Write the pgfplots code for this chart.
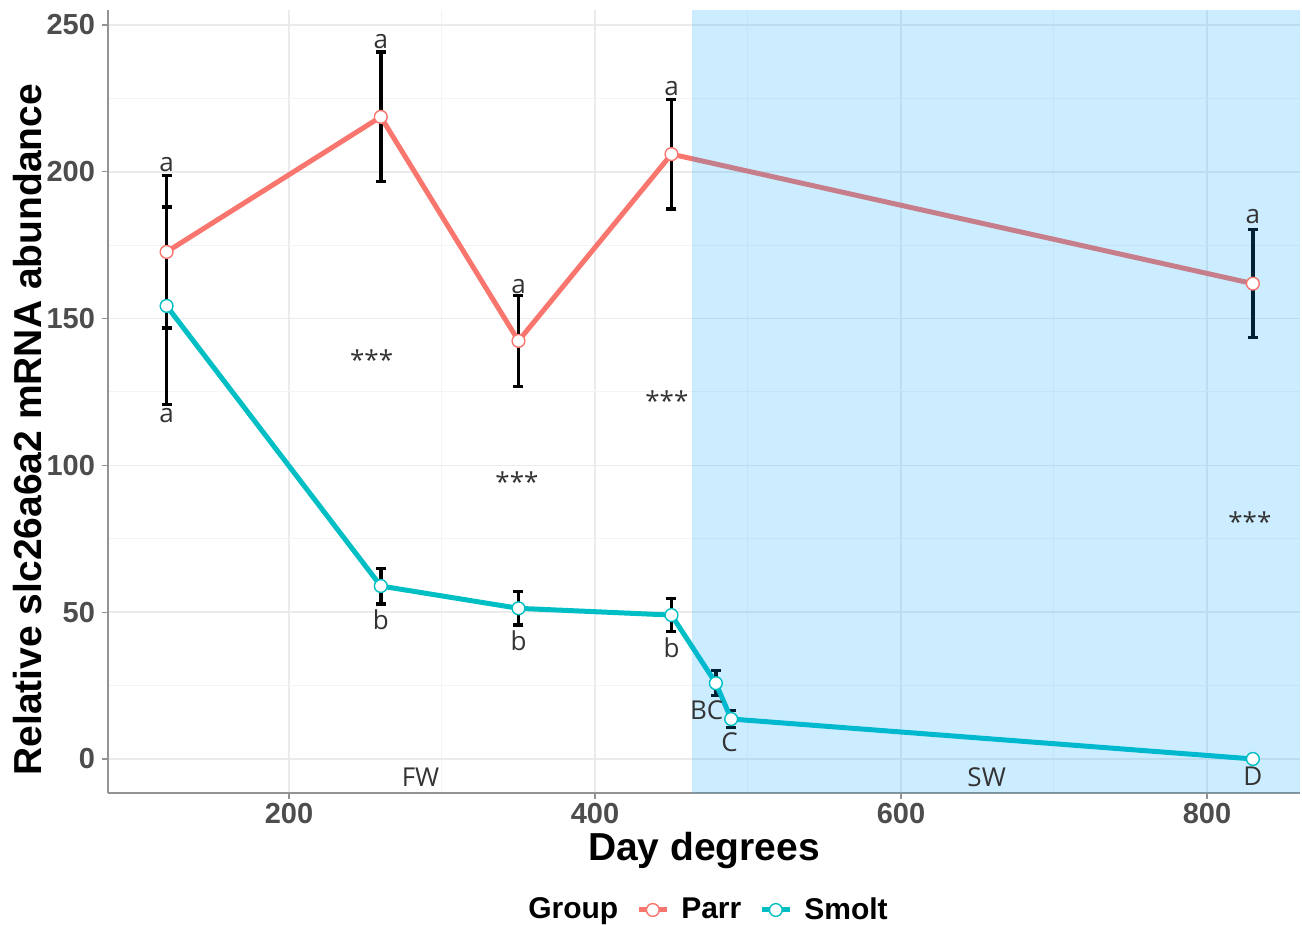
\documentclass[border=0pt]{standalone}
\usepackage{pgfplots}
\usepackage{pgfplotstable}
\usepackage{fontspec}
\pgfplotsset{compat=1.18}
\setmainfont{Liberation Sans}
\newfontfamily\annot{Open Sans}

\definecolor{parr}{HTML}{F8766D}
\definecolor{smolt}{HTML}{00BFC4}
\definecolor{swblue}{RGB}{0,165,255}
\definecolor{tickgray}{HTML}{4D4D4D}
\definecolor{gridmaj}{HTML}{EBEBEB}
\definecolor{gridmin}{HTML}{F4F4F4}
\definecolor{annotgray}{HTML}{333333}

% day degrees, mean, error
\pgfplotstableread{
x y err
120 172.7 25.9
260 218.7 22.1
350 142.4 15.5
450 206.0 18.7
830 161.9 18.3
}\parr

\pgfplotstableread{
x y err
120 154.3 33.7
260 58.9 6.1
350 51.3 5.7
450 49.0 5.7
479 25.8 4.2
489 13.6 2.8
830 0.0 0.0
}\smolt

\begin{document}
\begin{tikzpicture}
\path[use as bounding box] (-54pt,-66pt) rectangle (597pt,396.5pt);
\begin{axis}[
    scale only axis,
    width=596pt, height=391.5pt,
    xmin=81.7, xmax=860.8,
    ymin=-11.6, ymax=255.1,
    xtick={200,400,600,800},
    ytick={0,50,100,150,200,250},
    minor x tick num=1,
    minor y tick num=1,
    minor tick length=0pt,
    major tick length=3pt,
    tick align=outside,
    axis x line*=bottom,
    axis y line*=left,
    axis line style={draw=gray!85, line width=0.6pt},
    every tick/.style={draw=gray!85, line width=0.6pt},
    grid=both,
    major grid style={draw=gridmaj, line width=0.8pt},
    minor grid style={draw=gridmin, line width=0.5pt},
    /pgf/number format/assume math mode=true,
    ticklabel style={font=\bfseries\fontsize{14.5}{15}\selectfont, text=tickgray},
    xticklabel style={yshift=1.5pt},
    xlabel={Day degrees},
    ylabel={Relative slc26a6a2 mRNA abundance},
    label style={font=\bfseries\fontsize{19.5}{21}\selectfont},
    x label style={at={(axis description cs:0.5,0)}, anchor=center, yshift=-29pt},
    y label style={at={(axis description cs:0,0.464)}, anchor=center, yshift=40pt},
    legend columns=-1,
    legend style={at={(0.5,0)}, anchor=center, yshift=-58.5pt, draw=none, fill=none,
        font=\bfseries\fontsize{15}{16}\selectfont,
        /tikz/every odd column/.append style={column sep=4pt},
        /tikz/every even column/.append style={column sep=7pt}},
    legend image code/.code={
        \draw[#1, mark=none] (0pt,0pt) -- (14pt,0pt);
        \draw[#1, only marks] plot coordinates {(7pt,0pt)};
    },
]
\addlegendimage{empty legend}
\addlegendentry{Group}

% error bars first
\addplot[forget plot, only marks, mark=none,
    error bars/.cd, y dir=both, y explicit,
    error bar style={draw=black, line width=1.8pt},
    error mark options={draw=black, rotate=90, mark size=2.5pt, line width=1.6pt}]
    table[x=x, y=y, y error=err] {\parr};
\addplot[forget plot, only marks, mark=none,
    error bars/.cd, y dir=both, y explicit,
    error bar style={draw=black, line width=1.8pt},
    error mark options={draw=black, rotate=90, mark size=2.5pt, line width=1.6pt}]
    table[x=x, y=y, y error=err] {\smolt};

% lines with open markers
\addplot[parr, line width=2.5pt, mark=*, mark size=3.2pt,
    mark options={fill=white, draw=parr, line width=0.7pt}]
    table[x=x, y=y] {\parr};
\addlegendentry{Parr}
\addplot[smolt, line width=2.5pt, mark=*, mark size=3.2pt,
    mark options={fill=white, draw=smolt, line width=0.7pt}]
    table[x=x, y=y] {\smolt};
\addlegendentry{Smolt}

% seawater period
\addplot[forget plot, draw=none, fill=swblue, fill opacity=0.2]
    coordinates {(463.4,-11.6) (860.8,-11.6) (860.8,255.1) (463.4,255.1)} -- cycle;

% significance letters and stars
\begin{scope}[every node/.style={font=\annot\fontsize{13}{14}\selectfont, text=annotgray, inner sep=0pt}]
\node at (axis cs:120,202.3) {a};
\node at (axis cs:260,244.5) {a};
\node at (axis cs:350,161.0) {a};
\node at (axis cs:450,228.5) {a};
\node at (axis cs:830,184.6) {a};
\node at (axis cs:120,116.8) {a};
\node at (axis cs:260,47.3) {b};
\node at (axis cs:350,40.2) {b};
\node at (axis cs:450,37.8) {b};
\node at (axis cs:473,16.7) {BC};
\node at (axis cs:488,5.8) {C};
\node at (axis cs:830,-5.8) {D};
\node at (axis cs:254,135.9) {***};
\node at (axis cs:349,94.3) {***};
\node at (axis cs:447,122.0) {***};
\node at (axis cs:828,80.7) {***};
\node at (axis cs:286,-6.1) {FW};
\node at (axis cs:656,-6.1) {SW};
\end{scope}
\end{axis}
\end{tikzpicture}
\end{document}
